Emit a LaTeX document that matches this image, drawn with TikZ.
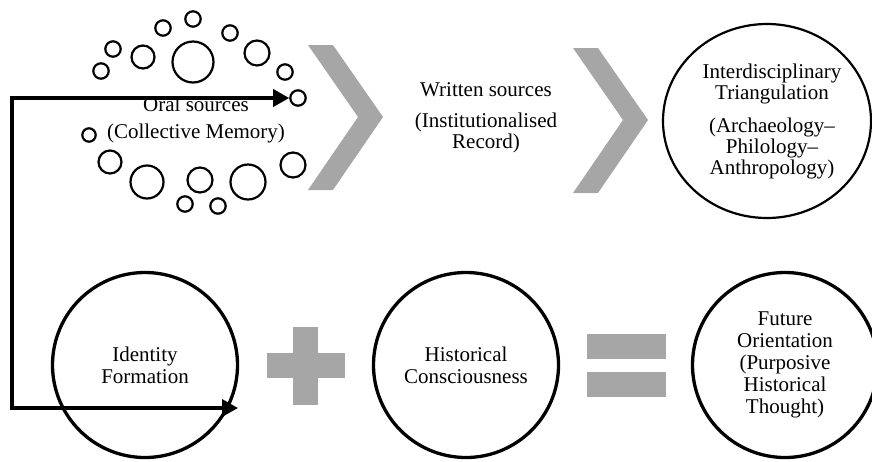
\documentclass[tikz,border=0pt]{standalone}
\usepackage{fontspec}
\setmainfont{Liberation Serif}
\usetikzlibrary{shapes.geometric,arrows.meta}
\definecolor{chev}{HTML}{A6A6A6}
\tikzset{
  txt/.style={align=center,font=\fontsize{21}{21}\selectfont,inner sep=0pt},
  bigcirc/.style={circle,draw,line width=3.3pt,minimum size=185pt,inner sep=0pt,align=center,font=\fontsize{21}{22}\selectfont},
  dot/.style={circle,draw,line width=2.2pt,inner sep=0pt},
  flow/.style={line width=3.5pt,{Triangle[length=16pt,width=17pt]}-{Triangle[length=16pt,width=17pt]}}
}
\begin{document}
\begin{tikzpicture}[x=1pt,y=-1pt]
\useasboundingbox (0,0) rectangle (872,461);
% small circles
\foreach \n/\x/\y/\r in {1/193/19/7.7, 2/163/28/7.7, 3/113/49/7.7, 4/101/71/7.7, 5/143/57/11.5, 6/193/62/20.5, 7/230/33/7.7, 8/257/53/12.5, 9/285/72/7.7, 10/298/98/7.7, 11/89/135/6.7, 12/110/162/11.5, 13/147/182/16.5, 14/200/180/12.5, 15/185/204/7.7, 16/218/206/7.7, 17/248/182/17.5, 18/293/165/12.5}
  \node[dot,minimum size=2*\r pt] (c\n) at (\x,\y) {};
\node[txt] (oral) at (196,104) {Oral sources};
\node[txt] (coll) at (196,133) {(Collective Memory)};
% chevrons
\fill[chev] (308,45) -- (333,45) -- (383,117) -- (333,190) -- (308,190) -- (358,117) -- cycle;
\fill[chev] (573,48) -- (598,48) -- (648,120) -- (598,193) -- (573,193) -- (623,120) -- cycle;
\node[txt] (writ) at (486,118) {Written sources\\[10pt](Institutionalised\\Record)};
% top right ellipse
\node[ellipse,draw,line width=2.2pt,minimum width=208pt,minimum height=194pt,inner sep=0pt] (itri) at (767,121) {};
\node[txt] (itrit) at (772,121) {Interdisciplinary\\Triangulation\\[12pt](Archaeology--\\Philology--\\Anthropology)};
% bottom circles
\node[bigcirc] (iden) at (145,365) {Identity\\Formation};
\node[bigcirc] (hist) at (466,365) {Historical\\Consciousness};
\node[bigcirc] (fut) at (785,365) {Future\\Orientation\\(Purposive\\Historical\\Thought)};
% plus
\fill[chev] (267,353) rectangle (345,378);
\fill[chev] (293,327) rectangle (318,405);
% equals
\fill[chev] (587,334) rectangle (666,359);
\fill[chev] (587,372) rectangle (666,397);
% arrow
\coordinate (corner) at (12,98);
\coordinate (idend) at (238,408);
\draw[flow] (c10.west) -- (corner) |- (idend);
\end{tikzpicture}
\end{document}
